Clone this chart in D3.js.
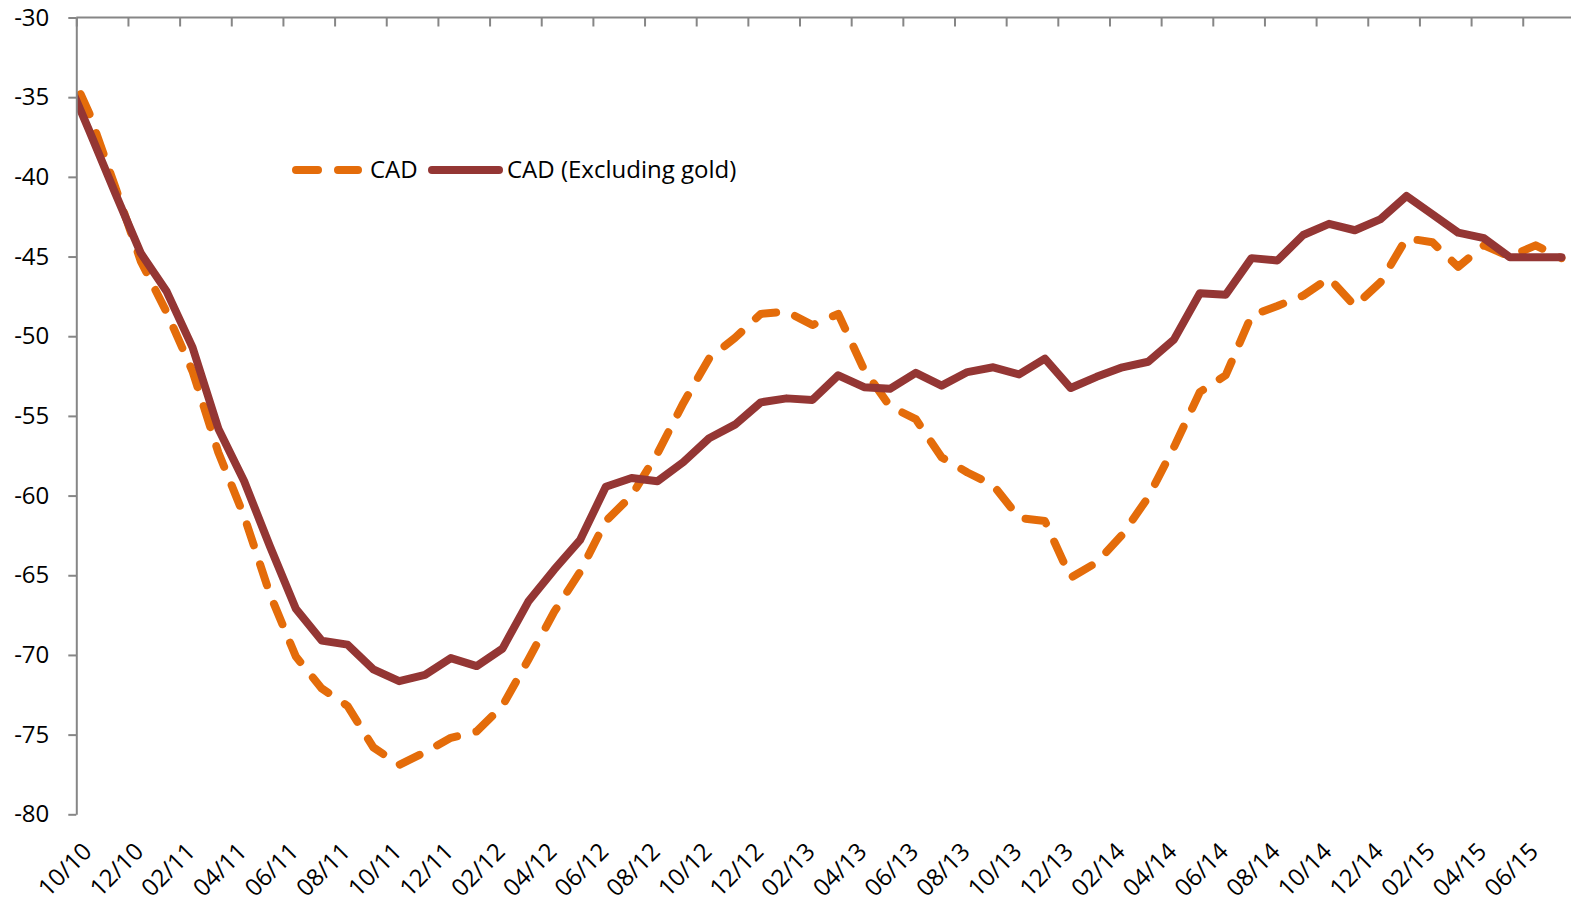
<!DOCTYPE html>
<html>
<head>
<meta charset="utf-8">
<script src="https://cdn.jsdelivr.net/npm/d3@7"></script>
<style>
  html, body { margin: 0; padding: 0; background: #fff; }
  svg { display: block; }
  text { font-family: "Open Sans", sans-serif; fill: #000; }
</style>
</head>
<body>
<svg id="chart" width="1571" height="902"></svg>
<script>
// ---- data ----
// monthly observations (plotted at mid-month); first one (09/10) lies just left of the axis start
const months = ["09/10","10/10","11/10","12/10","01/11","02/11","03/11","04/11","05/11","06/11","07/11","08/11","09/11","10/11","11/11","12/11",
  "01/12","02/12","03/12","04/12","05/12","06/12","07/12","08/12","09/12","10/12","11/12","12/12",
  "01/13","02/13","03/13","04/13","05/13","06/13","07/13","08/13","09/13","10/13","11/13","12/13",
  "01/14","02/14","03/14","04/14","05/14","06/14","07/14","08/14","09/14","10/14","11/14","12/14",
  "01/15","02/15","03/15","04/15","05/15","06/15","07/15"];

const cad = [-32.4,-36.0,-40.6,-45.3,-48.5,-52.2,-57.3,-61.3,-66.2,-70.1,-72.1,-73.2,-75.8,-76.9,-76.1,-75.2,
  -74.8,-73.2,-70.3,-67.3,-64.8,-61.6,-60.0,-57.35,-54.2,-51.4,-50.1,-48.6,
  -48.45,-49.3,-48.6,-52.1,-54.4,-55.2,-57.6,-58.55,-59.35,-61.4,-61.6,-65.15,
  -64.2,-62.45,-60.1,-56.95,-53.5,-52.45,-48.7,-48.1,-47.45,-46.35,-48.1,-46.6,
  -43.85,-44.1,-45.65,-44.3,-45.0,-44.3,-45.1];

const cadExGold = [-33.3,-37.1,-41.0,-44.8,-47.2,-50.7,-55.8,-59.1,-63.2,-67.1,-69.1,-69.35,-70.9,-71.65,-71.25,-70.2,
  -70.7,-69.6,-66.65,-64.65,-62.8,-59.45,-58.9,-59.1,-57.9,-56.4,-55.55,-54.15,
  -53.9,-54.0,-52.45,-53.2,-53.3,-52.3,-53.1,-52.25,-51.95,-52.4,-51.4,-53.25,
  -52.55,-51.95,-51.6,-50.2,-47.3,-47.4,-45.1,-45.25,-43.65,-42.95,-43.35,-42.65,
  -41.2,-42.35,-43.5,-43.85,-45.05,-45.05,-45.05];

const xTickLabels = ["10/10","12/10","02/11","04/11","06/11","08/11","10/11","12/11","02/12","04/12","06/12","08/12",
  "10/12","12/12","02/13","04/13","06/13","08/13","10/13","12/13","02/14","04/14","06/14","08/14",
  "10/14","12/14","02/15","04/15","06/15"];

const yTicks = [-30,-35,-40,-45,-50,-55,-60,-65,-70,-75,-80];

const seriesNames = ["CAD", "CAD (Excluding gold)"];

// ---- layout ----
(function () {
const svg = d3.select("#chart");
const pLeft = 76.3, pTop = 17.5, pBottom = 814.3, pRight = 1571;

// x: month offset from 10/10 (tick at the start of each month)
const x = d3.scaleLinear().domain([0, 58]).range([pLeft, 1574.4]);
const y = d3.scaleLinear().domain([-30, -80]).range([pTop, pBottom]);

const monthPos = (i) => i - 0.5; // index in `months` -> mid-month position
const axisColor = "#868686";

svg.append("defs").append("clipPath").attr("id", "plotclip")
  .append("rect").attr("x", pLeft).attr("y", 0).attr("width", pRight - pLeft).attr("height", 902);

const lineGen = d3.line()
  .x((d, i) => x(monthPos(i)))
  .y(d => y(d));

const g = svg.append("g").attr("clip-path", "url(#plotclip)");

g.append("path").datum(cad)
  .attr("d", lineGen)
  .attr("fill", "none")
  .attr("stroke", "#E46C0A")
  .attr("stroke-width", 8)
  .attr("stroke-linecap", "round")
  .attr("stroke-linejoin", "round")
  .attr("stroke-dasharray", "22 20");

g.append("path").datum(cadExGold)
  .attr("d", lineGen)
  .attr("fill", "none")
  .attr("stroke", "#943634")
  .attr("stroke-width", 8)
  .attr("stroke-linecap", "round")
  .attr("stroke-linejoin", "round");

// top category axis (ticks pointing down)
const xTickVals = xTickLabels.map((d, i) => i * 2);
const xAxis = d3.axisBottom(x).tickValues(xTickVals).tickSize(9).tickSizeOuter(0).tickFormat("");
const xg = svg.append("g").attr("transform", `translate(0,${pTop})`).call(xAxis);
xg.select(".domain").attr("stroke", axisColor).attr("stroke-width", 2).attr("d", `M${pLeft},0H${pRight}`);
xg.selectAll(".tick line").attr("stroke", axisColor).attr("stroke-width", 2);

// y axis
const yAxis = d3.axisLeft(y).tickValues(yTicks).tickSize(8).tickSizeOuter(0).tickPadding(19);
const yg = svg.append("g").attr("transform", `translate(${pLeft},0)`).call(yAxis);
yg.select(".domain").attr("stroke", axisColor).attr("stroke-width", 2);
yg.selectAll(".tick line").attr("stroke", axisColor).attr("stroke-width", 2);
yg.selectAll(".tick text").attr("font-size", 24).attr("font-family", "Open Sans, sans-serif").attr("fill", "#000")
  .text(d => String(d));

// bottom rotated labels
svg.append("g").selectAll("text").data(xTickLabels).join("text")
  .attr("transform", (d, i) => `translate(${x(i * 2) + 17},853) rotate(-45)`)
  .attr("text-anchor", "end")
  .attr("font-size", 24)
  .text(d => d);

// legend
const lg = svg.append("g");
lg.append("line").attr("x1", 296).attr("x2", 358).attr("y1", 170).attr("y2", 170)
  .attr("stroke", "#E46C0A").attr("stroke-width", 8).attr("stroke-linecap", "round").attr("stroke-dasharray", "22 20");
lg.append("text").attr("x", 370).attr("y", 170).attr("dy", "0.35em").attr("font-size", 24).text(seriesNames[0]);
lg.append("line").attr("x1", 432).attr("x2", 499).attr("y1", 170).attr("y2", 170)
  .attr("stroke", "#943634").attr("stroke-width", 8).attr("stroke-linecap", "round");
lg.append("text").attr("x", 507).attr("y", 170).attr("dy", "0.35em").attr("font-size", 24).text(seriesNames[1]);
})();
</script>
</body>
</html>
